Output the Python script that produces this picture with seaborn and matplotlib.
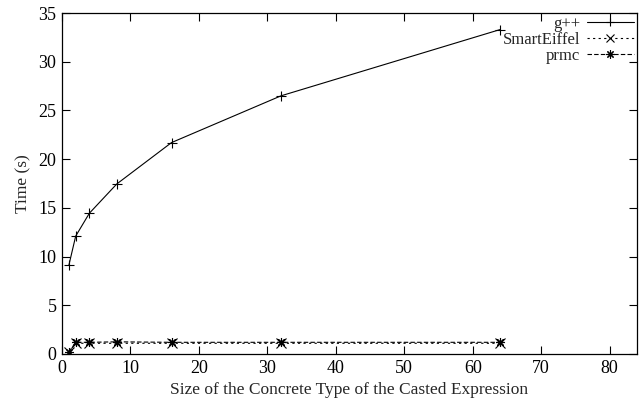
import pandas as pd
import matplotlib
matplotlib.use("Agg")
import matplotlib.pyplot as plt
import seaborn as sns

# concrete type size vs compile time
sizes = [1, 2, 4, 8, 16, 32, 64]
gpp = [9.1, 12.1, 14.45, 17.45, 21.7, 26.5, 33.3]
smarteiffel = [0.2, 1.1, 1.1, 1.1, 1.1, 1.1, 1.1]
prmc = [0.2, 1.2, 1.2, 1.25, 1.2, 1.2, 1.2]
series_names = ["g++", "SmartEiffel", "prmc"]

df = pd.DataFrame({
    "size": sizes * 3,
    "time": gpp + smarteiffel + prmc,
    "compiler": [n for n in series_names for _ in sizes],
})

sns.set_theme(style="ticks")
plt.rcParams["font.family"] = ["Liberation Serif", "DejaVu Serif"]
plt.rcParams["font.size"] = 13

fig = plt.figure(figsize=(6.39, 4.03), dpi=100)
ax = fig.add_axes([62 / 639, 1 - 354 / 403, 575 / 639, 341 / 403])

sns.lineplot(
    data=df, x="size", y="time", hue="compiler", style="compiler",
    palette=["black"] * 3,
    markers={"g++": "+", "SmartEiffel": "x", "prmc": (8, 2, 0)},
    dashes={"g++": "", "SmartEiffel": (2, 3), "prmc": (4, 2)},
    linewidth=0.8, markersize=6.5, markeredgewidth=0.8,
    markeredgecolor="black",
    ax=ax, legend=True,
)

ax.set_xlim(0, 84)
ax.set_ylim(0, 35)
ax.set_xticks(range(0, 81, 10))
ax.set_yticks(range(0, 36, 5))
ax.tick_params(direction="in", length=6, width=0.8, top=True, right=True,
               labelsize=13, colors="black", pad=4)
for s in ax.spines.values():
    s.set_linewidth(0.9)
    s.set_color("black")
ax.set_xlabel("Size of the Concrete Type of the Casted Expression", fontsize=12.5, labelpad=4)
ax.set_ylabel("Time (s)", fontsize=12.5, labelpad=5)

handles, labels = ax.get_legend_handles_labels()
for h in handles:
    h.set_markeredgecolor("black")
    h.set_markersize(6)
ax.legend(handles, labels, loc="upper right", frameon=False, markerfirst=False,
          handlelength=2.8, handletextpad=0.4, labelspacing=0.0,
          borderaxespad=0.1, borderpad=0.1, fontsize=12)

fig.savefig("out.png", dpi=100)
plt.close(fig)
